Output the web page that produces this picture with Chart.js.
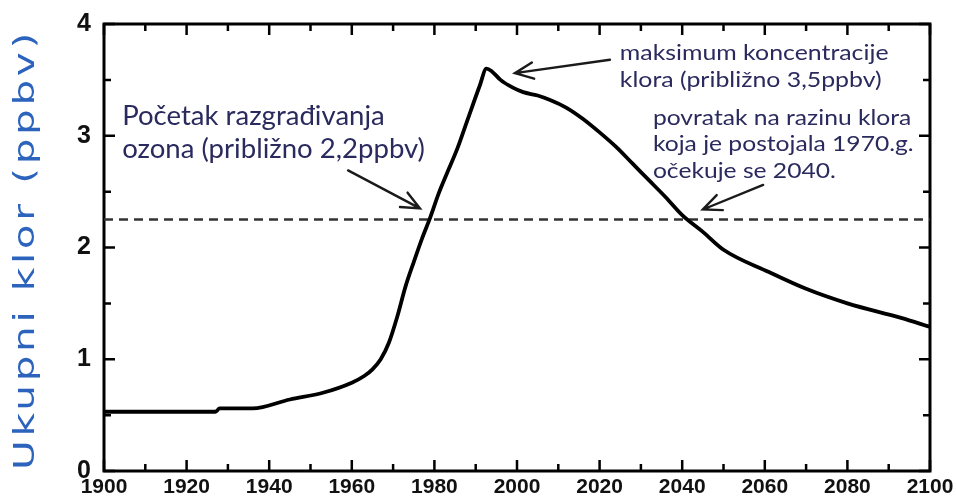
<!DOCTYPE html>
<html>
<head>
<meta charset="utf-8">
<script src="https://cdn.jsdelivr.net/npm/chart.js@4.4.1/dist/chart.umd.min.js"></script>
<style>
  html, body { margin: 0; padding: 0; background: #ffffff; }
  #wrap { width: 956px; height: 501px; }
</style>
</head>
<body>
<div id="wrap"><canvas id="chart" width="956" height="501"></canvas></div>
<script>
// Total stratospheric chlorine, ppbv (observed + projected)
const years = [1900, 1927, 1928, 1936, 1945, 1953, 1960, 1963, 1965, 1967, 1969, 1971, 1973, 1975, 1977,
  1979, 1981, 1983, 1985.5, 1988, 1991, 1992.6, 1993.8, 1996, 1999, 2001.5, 2005, 2008, 2012, 2016,
  2020, 2024, 2028, 2032, 2036, 2040, 2045, 2050, 2061, 2070, 2080, 2093, 2100];
const chlorine = [0.53, 0.53, 0.56, 0.56, 0.64, 0.70, 0.79, 0.85, 0.91, 1.00, 1.15, 1.38, 1.65, 1.87, 2.08,
  2.27, 2.48, 2.66, 2.88, 3.14, 3.45, 3.60, 3.58, 3.50, 3.43, 3.39, 3.36, 3.32, 3.25, 3.15,
  3.03, 2.90, 2.75, 2.60, 2.45, 2.29, 2.14, 1.98, 1.78, 1.63, 1.50, 1.37, 1.29];

// Ozone-depletion threshold (dashed reference line)
const thresholdYears = [1900, 2100];
const thresholdValue = 2.25;

// Axis tick labels
const xTickLabels = ['1900', '1920', '1940', '1960', '1980', '2000', '2020', '2040', '2060', '2080', '2100'];
const yTickLabels = ['0', '1', '2', '3', '4'];

const yTitle = 'Ukupni klor (ppbv)';

// Callout texts and arrows, placed in data coordinates
const notes = [
  { x: 1904.4, y: 3.10, size: 26, sx: 1.06, lh: 33, lines: ['Početak razgrađivanja', 'ozona (približno 2,2ppbv)'] },
  { x: 2024.9, y: 3.68, size: 22, sx: 1.13, lh: 27, lines: ['maksimum koncentracije', 'klora (približno 3,5ppbv)'] },
  { x: 2032.9, y: 3.10, size: 22, sx: 1.12, lh: 26.5, lines: ['povratak na razinu klora', 'koja je postojala 1970.g.', 'očekuje se 2040.'] }
];
const arrows = [
  { from: [1959.1, 2.69], to: [1976.5, 2.35] },
  { from: [2022.5, 3.68], to: [1999.5, 3.56] },
  { from: [2059.6, 2.56], to: [2045.0, 2.34] }
];

// frame with inward ticks on every side, drawn under the data
const framePlugin = {
  id: 'framePlugin',
  beforeDatasetsDraw(chart) {
    const { ctx, chartArea: a, scales } = chart;
    const xs = scales.x, ys = scales.y;
    ctx.save();
    ctx.strokeStyle = '#000';
    ctx.lineWidth = 2.5;
    ctx.beginPath();
    for (let yr = 1900; yr <= 2100; yr += 10) {
      const px = xs.getPixelForValue(yr);
      const len = (yr % 20 === 0) ? 11 : 7;
      ctx.moveTo(px, a.bottom); ctx.lineTo(px, a.bottom - len);
      ctx.moveTo(px, a.top); ctx.lineTo(px, a.top + len);
    }
    for (let k = 0; k <= 8; k++) {
      const py = ys.getPixelForValue(k / 2);
      const len = (k % 2 === 0) ? 11 : 7;
      ctx.moveTo(a.left, py); ctx.lineTo(a.left + len, py);
      ctx.moveTo(a.right, py); ctx.lineTo(a.right - len, py);
    }
    ctx.stroke();
    ctx.lineWidth = 3;
    ctx.strokeRect(a.left, a.top, a.right - a.left, a.bottom - a.top);
    ctx.restore();
  }
};

// callouts and the rotated axis title
const notesPlugin = {
  id: 'notesPlugin',
  afterDraw(chart) {
    const { ctx, chartArea: a, scales } = chart;
    const xs = scales.x, ys = scales.y;
    ctx.save();

    ctx.strokeStyle = '#1a1a1a';
    ctx.lineWidth = 2.4;
    ctx.lineCap = 'round';
    arrows.forEach(ar => {
      const x0 = xs.getPixelForValue(ar.from[0]), y0 = ys.getPixelForValue(ar.from[1]);
      const x1 = xs.getPixelForValue(ar.to[0]), y1 = ys.getPixelForValue(ar.to[1]);
      const ang = Math.atan2(y1 - y0, x1 - x0);
      const hl = 20, spread = 0.42;
      ctx.beginPath();
      ctx.moveTo(x0, y0); ctx.lineTo(x1, y1);
      ctx.moveTo(x1 - hl * Math.cos(ang - spread), y1 - hl * Math.sin(ang - spread));
      ctx.lineTo(x1, y1);
      ctx.lineTo(x1 - hl * Math.cos(ang + spread), y1 - hl * Math.sin(ang + spread));
      ctx.stroke();
    });

    ctx.fillStyle = '#2a2a5e';
    ctx.textAlign = 'left';
    ctx.textBaseline = 'alphabetic';
    notes.forEach(n => {
      const x = xs.getPixelForValue(n.x);
      const y = ys.getPixelForValue(n.y);
      n.lines.forEach((t, i) => {
        ctx.save();
        ctx.translate(x, y + i * n.lh);
        ctx.scale(n.sx, 1);
        ctx.font = n.size + 'px Lato, "Open Sans", sans-serif';
        ctx.fillText(t, 0, 0);
        ctx.restore();
      });
    });

    ctx.save();
    ctx.translate(27, (a.top + a.bottom) / 2 + 2);
    ctx.rotate(-Math.PI / 2);
    ctx.scale(1.45, 1);
    ctx.font = '28px "DejaVu Sans", sans-serif';
    if ('letterSpacing' in ctx) ctx.letterSpacing = '2.5px';
    ctx.fillStyle = '#2c63bd';
    ctx.textAlign = 'center';
    ctx.textBaseline = 'middle';
    ctx.fillText(yTitle, 0, 0);
    ctx.restore();

    ctx.restore();
  }
};

// keep the plot area fixed: no extra room reserved for overhanging labels
function clearScalePadding(scale) {
  scale.paddingTop = 0; scale.paddingBottom = 0;
  scale.paddingLeft = 0; scale.paddingRight = 0;
}

new Chart(document.getElementById('chart'), {
  type: 'line',
  data: {
    datasets: [
      {
        data: years.map((y, i) => ({ x: y, y: chlorine[i] })),
        borderColor: '#000',
        borderWidth: 3.8,
        pointRadius: 0,
        cubicInterpolationMode: 'monotone',
        order: 1
      },
      {
        data: thresholdYears.map(y => ({ x: y, y: thresholdValue })),
        borderColor: '#333',
        borderWidth: 2.4,
        borderDash: [9, 6],
        pointRadius: 0,
        order: 2
      }
    ]
  },
  options: {
    responsive: false,
    devicePixelRatio: 1,
    animation: false,
    layout: { padding: { left: 0, right: 26, top: 24, bottom: 0 } },
    plugins: { legend: { display: false }, tooltip: { enabled: false } },
    scales: {
      x: {
        type: 'linear',
        min: 1900, max: 2100,
        afterBuildTicks(scale) { scale.ticks = xTickLabels.map(t => ({ value: Number(t) })); },
        afterFit(scale) { scale.height = 30; clearScalePadding(scale); },
        grid: { display: false, drawTicks: false },
        border: { display: false },
        ticks: {
          padding: 4,
          maxRotation: 0,
          autoSkip: false,
          color: '#111',
          font: { family: '"Liberation Sans Narrow", "Liberation Sans", Arial, sans-serif', weight: 'bold', size: 21 },
          callback: (v) => xTickLabels.find(t => Number(t) === v) || ''
        }
      },
      y: {
        type: 'linear',
        min: 0, max: 4,
        afterBuildTicks(scale) { scale.ticks = yTickLabels.map(t => ({ value: Number(t) })); },
        afterFit(scale) { scale.width = 104; clearScalePadding(scale); },
        grid: { display: false, drawTicks: false },
        border: { display: false },
        ticks: {
          padding: 13,
          color: '#111',
          font: { family: '"Liberation Sans", Arial, sans-serif', weight: 'bold', size: 25 },
          callback: (v) => yTickLabels.find(t => Number(t) === v) || ''
        }
      }
    }
  },
  plugins: [framePlugin, notesPlugin]
});
</script>
</body>
</html>
